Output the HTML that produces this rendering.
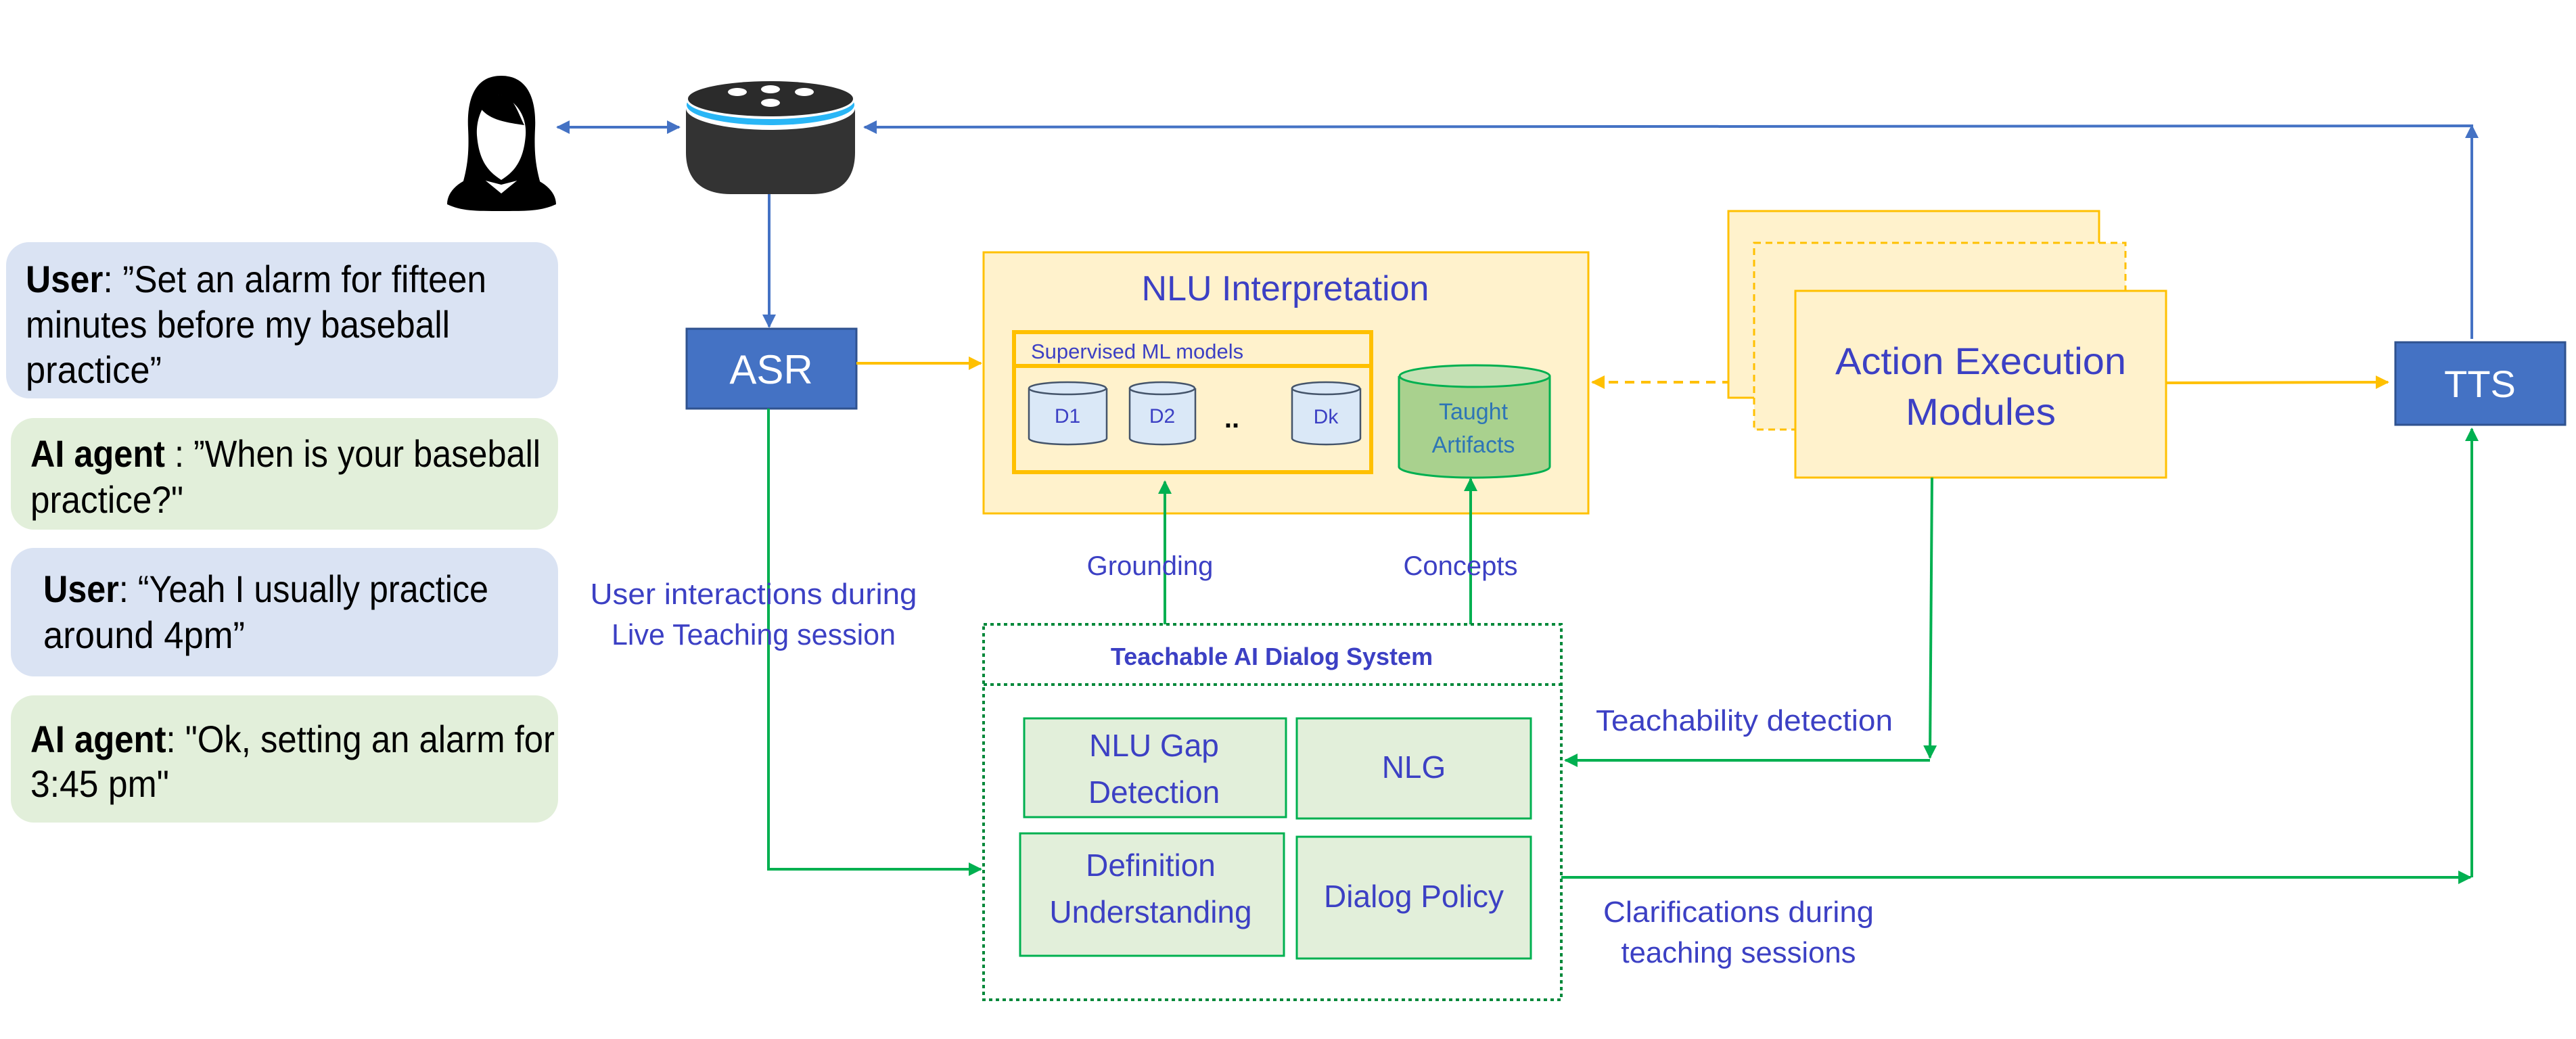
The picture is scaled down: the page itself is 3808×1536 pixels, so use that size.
<!DOCTYPE html>
<html><head><meta charset="utf-8"><style>html,body{margin:0;padding:0;background:#fff}svg{display:block}</style></head>
<body>
<svg width="3808" height="1536" viewBox="0 0 3808 1536" xmlns="http://www.w3.org/2000/svg" font-family="'Liberation Sans', sans-serif">
<defs>
<marker id="ab" viewBox="0 0 10 10" refX="9" refY="5" markerWidth="5" markerHeight="5" orient="auto-start-reverse"><path d="M0,0 L10,5 L0,10 Z" fill="#4472c4"/></marker>
<marker id="ag" viewBox="0 0 10 10" refX="9" refY="5" markerWidth="5" markerHeight="5" orient="auto-start-reverse"><path d="M0,0 L10,5 L0,10 Z" fill="#00b050"/></marker>
<marker id="ao" viewBox="0 0 10 10" refX="9" refY="5" markerWidth="5" markerHeight="5" orient="auto-start-reverse"><path d="M0,0 L10,5 L0,10 Z" fill="#ffc000"/></marker>
</defs>

<!-- person -->
<path d="M741,112 C700,112 690,150 692,190 C694,230 690,250 683,275 L710,265 L741,273 L772,265 L800,275 C793,250 789,230 791,190 C793,150 782,112 741,112 Z" fill="#000"/>
<path d="M741,140 C720,140 703,170 705,200 C708,238 722,254 741,266 C760,254 774,238 777,200 C779,170 762,150 741,140 Z" fill="#fff"/>
<path d="M705,150 C715,175 740,180 775,185 C765,165 758,140 741,140 C725,140 712,145 705,150 Z" fill="#000"/>
<path d="M661,302 C661,282 680,266 708,259 L741,286 L774,259 C802,266 822,282 822,302 C800,312 780,312 741,312 C702,312 682,312 661,302 Z" fill="#000"/>

<!-- echo -->
<path d="M1014,160 L1014,225 C1014,268 1040,287 1080,287 L1200,287 C1240,287 1264,268 1264,225 L1264,160 Z" fill="#333"/>
<ellipse cx="1139" cy="160" rx="125" ry="32" fill="#fff"/>
<ellipse cx="1139" cy="155" rx="124" ry="30" fill="#29b6f6"/>
<ellipse cx="1139" cy="148" rx="124" ry="28" fill="#fff"/>
<ellipse cx="1139" cy="146" rx="122" ry="26" fill="#2b2b2b"/>
<ellipse cx="1090" cy="136" rx="14" ry="6" fill="#fff"/>
<ellipse cx="1139" cy="132" rx="14" ry="6" fill="#fff"/>
<ellipse cx="1189" cy="136" rx="14" ry="6" fill="#fff"/>
<ellipse cx="1139" cy="152" rx="14" ry="6" fill="#fff"/>

<!-- blue connectors -->
<line x1="824" y1="188" x2="1004" y2="188" stroke="#4472c4" stroke-width="4" marker-start="url(#ab)" marker-end="url(#ab)"/>
<line x1="1137" y1="287" x2="1137" y2="483" stroke="#4472c4" stroke-width="4" marker-end="url(#ab)"/>
<polyline points="3654,501 3654,186 1278,188" fill="none" stroke="#4472c4" stroke-width="4" marker-end="url(#ab)"/>
<line x1="3654" y1="300" x2="3654" y2="186" stroke="#4472c4" stroke-width="4" marker-end="url(#ab)"/>

<!-- bubbles -->
<g font-size="56" fill="#000">
<rect x="9" y="358" width="816" height="231" rx="34" fill="#dae3f3"/>
<text x="38" y="432" textLength="681" lengthAdjust="spacingAndGlyphs"><tspan font-weight="bold">User</tspan>: ”Set an alarm for fifteen</text>
<text x="38" y="499" textLength="627" lengthAdjust="spacingAndGlyphs">minutes before my baseball</text>
<text x="38" y="566" textLength="201" lengthAdjust="spacingAndGlyphs">practice”</text>
<rect x="16" y="618" width="809" height="165" rx="34" fill="#e2efda"/>
<text x="45" y="690" textLength="754" lengthAdjust="spacingAndGlyphs"><tspan font-weight="bold">AI agent </tspan>: ”When is your baseball</text>
<text x="45" y="758" textLength="226" lengthAdjust="spacingAndGlyphs">practice?"</text>
<rect x="16" y="810" width="809" height="190" rx="34" fill="#dae3f3"/>
<text x="64" y="890" textLength="658" lengthAdjust="spacingAndGlyphs"><tspan font-weight="bold">User</tspan>: “Yeah I usually practice</text>
<text x="64" y="958" textLength="298" lengthAdjust="spacingAndGlyphs">around 4pm”</text>
<rect x="16" y="1028" width="809" height="188" rx="34" fill="#e2efda"/>
<text x="45" y="1112" textLength="775" lengthAdjust="spacingAndGlyphs"><tspan font-weight="bold">AI agent</tspan>: "Ok, setting an alarm for</text>
<text x="45" y="1178" textLength="205" lengthAdjust="spacingAndGlyphs">3:45 pm"</text>
</g>

<!-- ASR -->
<rect x="1015" y="486" width="251" height="118" fill="#4472c4" stroke="#2f528f" stroke-width="3"/>
<text x="1140" y="567" font-size="60" fill="#fff" text-anchor="middle">ASR</text>
<line x1="1266" y1="537" x2="1450" y2="537" stroke="#ffc000" stroke-width="4" marker-end="url(#ao)"/>

<!-- green from ASR -->
<polyline points="1136,604 1136,1285 1450,1285" fill="none" stroke="#00b050" stroke-width="4" marker-end="url(#ag)"/>
<text font-size="44" fill="#3c40c4" text-anchor="middle"><tspan x="1114" y="893" textLength="483" lengthAdjust="spacingAndGlyphs">User interactions during</tspan><tspan x="1114" y="953" textLength="420" lengthAdjust="spacingAndGlyphs">Live Teaching session</tspan></text>

<!-- NLU -->
<rect x="1454" y="373" width="894" height="386" fill="#fff2cc" stroke="#ffc000" stroke-width="3"/>
<text x="1900" y="444" font-size="52" fill="#3c40c4" text-anchor="middle">NLU Interpretation</text>
<rect x="1499" y="491" width="528" height="207" fill="none" stroke="#ffc000" stroke-width="6"/>
<line x1="1499" y1="541" x2="2027" y2="541" stroke="#ffc000" stroke-width="6"/>
<text x="1524" y="530" font-size="31" fill="#3c40c4">Supervised ML models</text>
<g fill="#dae8f7" stroke="#44546a" stroke-width="2.5">
<path d="M1521,574 L1521,648 A57,9 0 0 0 1636,648 L1636,574"/><ellipse cx="1578" cy="574" rx="57" ry="9"/>
<path d="M1670,574 L1670,648 A48,9 0 0 0 1767,648 L1767,574"/><ellipse cx="1718" cy="574" rx="48" ry="9"/>
<path d="M1910,574 L1910,648 A50,9 0 0 0 2011,648 L2011,574"/><ellipse cx="1960" cy="574" rx="50" ry="9"/>
</g>
<g font-size="30" fill="#3c40c4" text-anchor="middle"><text x="1578" y="625">D1</text><text x="1718" y="625">D2</text><text x="1960" y="626">Dk</text></g>
<text x="1821" y="632" font-size="40" fill="#000" text-anchor="middle" font-weight="bold">..</text>
<path d="M2068,556 L2068,690 A111,16 0 0 0 2291,690 L2291,556" fill="#a9d18e" stroke="#00b050" stroke-width="3"/>
<ellipse cx="2180" cy="556" rx="111" ry="16" fill="#c5e0b4" stroke="#00b050" stroke-width="3"/>
<g font-size="34" fill="#2e75b6" text-anchor="middle"><text x="2178" y="620">Taught</text><text x="2178" y="669">Artifacts</text></g>

<!-- dashed orange arrow -->
<line x1="2354" y1="565" x2="2650" y2="565" stroke="#ffc000" stroke-width="4" stroke-dasharray="14,10" marker-start="url(#ao)" marker-end="url(#ao)"/>

<!-- action execution stack -->
<rect x="2555" y="312" width="548" height="276" fill="#fff2cc" stroke="#ffc000" stroke-width="3"/>
<rect x="2593" y="359" width="549" height="276" fill="#fff2cc" stroke="#ffc000" stroke-width="3" stroke-dasharray="10,7"/>
<rect x="2654" y="430" width="548" height="276" fill="#fff2cc" stroke="#ffc000" stroke-width="3"/>
<g font-size="56" fill="#3c40c4" text-anchor="middle"><text x="2928" y="553" textLength="430" lengthAdjust="spacingAndGlyphs">Action Execution</text><text x="2928" y="628" textLength="222" lengthAdjust="spacingAndGlyphs">Modules</text></g>
<line x1="3202" y1="566" x2="3530" y2="565" stroke="#ffc000" stroke-width="4" marker-end="url(#ao)"/>

<!-- TTS -->
<rect x="3541" y="506" width="251" height="122" fill="#4472c4" stroke="#2f528f" stroke-width="3"/>
<text x="3666" y="587" font-size="56" fill="#fff" text-anchor="middle">TTS</text>

<!-- green from AEM -->
<line x1="2856" y1="706" x2="2853" y2="1120" stroke="#00b050" stroke-width="4" marker-end="url(#ag)"/>
<line x1="2853" y1="1124" x2="2314" y2="1124" stroke="#00b050" stroke-width="4" marker-end="url(#ag)"/>
<text x="2359" y="1080" font-size="44" fill="#3c40c4" textLength="439" lengthAdjust="spacingAndGlyphs">Teachability detection</text>

<!-- clarifications -->
<line x1="2308" y1="1297" x2="3652" y2="1297" stroke="#00b050" stroke-width="4" marker-end="url(#ag)"/>
<line x1="3654" y1="1297" x2="3654" y2="634" stroke="#00b050" stroke-width="4" marker-end="url(#ag)"/>
<text font-size="44" fill="#3c40c4" text-anchor="middle"><tspan x="2570" y="1363" textLength="400" lengthAdjust="spacingAndGlyphs">Clarifications during</tspan><tspan x="2570" y="1423" textLength="347" lengthAdjust="spacingAndGlyphs">teaching sessions</tspan></text>

<!-- grounding / concepts -->
<line x1="1722" y1="923" x2="1722" y2="712" stroke="#00b050" stroke-width="4" marker-end="url(#ag)"/>
<line x1="2174" y1="923" x2="2174" y2="708" stroke="#00b050" stroke-width="4" marker-end="url(#ag)"/>
<g font-size="40" fill="#3c40c4" text-anchor="middle"><text x="1700" y="850">Grounding</text><text x="2159" y="850">Concepts</text></g>

<!-- teachable box -->
<rect x="1454" y="923" width="854" height="555" fill="none" stroke="#00883a" stroke-width="4" stroke-dasharray="5,5"/>
<line x1="1454" y1="1012" x2="2308" y2="1012" stroke="#00883a" stroke-width="4" stroke-dasharray="5,5"/>
<text x="1880" y="983" font-size="36" font-weight="bold" fill="#3c40c4" text-anchor="middle">Teachable AI Dialog System</text>
<g fill="#e2efda" stroke="#00b050" stroke-width="3">
<rect x="1514" y="1062" width="387" height="146"/>
<rect x="1917" y="1062" width="346" height="148"/>
<rect x="1508" y="1232" width="390" height="181"/>
<rect x="1917" y="1237" width="346" height="180"/>
</g>
<g font-size="46" fill="#3c40c4" text-anchor="middle">
<text x="1706" y="1118">NLU Gap</text><text x="1706" y="1187">Detection</text>
<text x="2090" y="1150">NLG</text>
<text x="1701" y="1295">Definition</text><text x="1701" y="1364">Understanding</text>
<text x="2090" y="1341">Dialog Policy</text>
</g>
</svg>
</body></html>
